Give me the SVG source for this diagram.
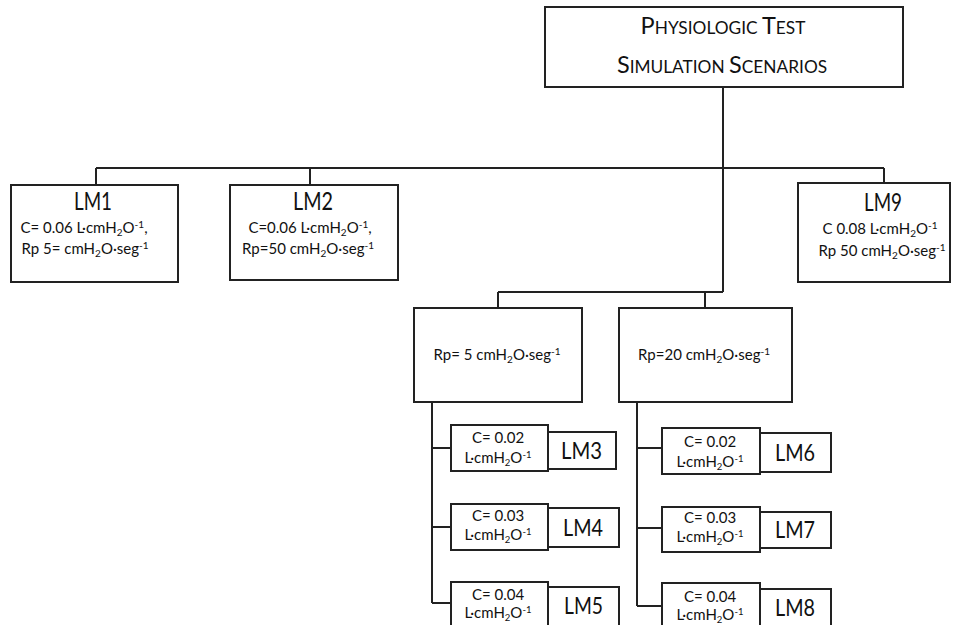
<svg xmlns="http://www.w3.org/2000/svg" width="958" height="625" viewBox="0 0 958 625">
<style>
.box{fill:#fff;stroke:#222;stroke-width:2}
.ln{fill:none;stroke:#222;stroke-width:2}
text{font-family:Lato,"Open Sans","Liberation Sans",sans-serif;fill:#111}
.t{font-size:23.5px;text-anchor:middle}
.s{font-size:17.3px}
.lm{font-size:25px}
.p{font-size:15px;text-anchor:middle}
.c{font-size:15px;text-anchor:middle}
.lb{font-size:23px}
</style>
<rect width="958" height="625" fill="#fff"/>
<g id="connectors">
<path class="ln" d="M723 87V292M96 168H884M96 168V185M310 168V185M884 168V183M498 292H723M498 292V308M705 292V308"/>
<path class="ln" d="M432 402V603M432 448H451M432 527H451M432 603H451"/>
<path class="ln" d="M637 402V606M637 448H662M637 528H662M637 606H662"/>
</g>
<g id="root">
<rect class="box" x="545" y="7" width="358" height="80"/>
<text class="t" x="723" y="34">P<tspan class="s">HYSIOLOGIC </tspan>T<tspan class="s">EST</tspan></text>
<text class="t" x="722" y="73">S<tspan class="s">IMULATION </tspan>S<tspan class="s">CENARIOS</tspan></text>
</g>
<g id="LM1">
<rect class="box" x="11" y="185" width="167" height="97"/>
<text class="lm" x="74" y="210" textLength="38" lengthAdjust="spacingAndGlyphs">LM1</text>
<text class="p" x="84" y="233">C= 0.06 L·cmH<tspan font-size="10" dy="3">2</tspan><tspan dy="-3">O</tspan><tspan font-size="10" dy="-5">-1</tspan><tspan dy="5">,</tspan></text>
<text class="p" x="85" y="254">Rp 5= cmH<tspan font-size="10" dy="3">2</tspan><tspan dy="-3">O·seg</tspan><tspan font-size="10" dy="-5">-1</tspan></text>
</g>
<g id="LM2">
<rect class="box" x="230" y="185" width="168" height="95"/>
<text class="lm" x="293" y="210" textLength="40" lengthAdjust="spacingAndGlyphs">LM2</text>
<text class="p" x="310" y="233">C=0.06 L·cmH<tspan font-size="10" dy="3">2</tspan><tspan dy="-3">O</tspan><tspan font-size="10" dy="-5">-1</tspan><tspan dy="5">,</tspan></text>
<text class="p" x="308" y="254">Rp=50 cmH<tspan font-size="10" dy="3">2</tspan><tspan dy="-3">O·seg</tspan><tspan font-size="10" dy="-5">-1</tspan></text>
</g>
<g id="LM9">
<rect class="box" x="798" y="183" width="152" height="99"/>
<text class="lm" x="864" y="211" textLength="38" lengthAdjust="spacingAndGlyphs">LM9</text>
<text class="p" x="880" y="234">C 0.08 L·cmH<tspan font-size="10" dy="3">2</tspan><tspan dy="-3">O</tspan><tspan font-size="10" dy="-5">-1</tspan></text>
<text class="p" x="882" y="256">Rp 50 cmH<tspan font-size="10" dy="3">2</tspan><tspan dy="-3">O·seg</tspan><tspan font-size="10" dy="-5">-1</tspan></text>
</g>
<g id="Rp5">
<rect class="box" x="414" y="308" width="168" height="94"/>
<text class="p" x="497" y="360">Rp= 5 cmH<tspan font-size="10" dy="3">2</tspan><tspan dy="-3">O·seg</tspan><tspan font-size="10" dy="-5">-1</tspan></text>
</g>
<g id="Rp20">
<rect class="box" x="619" y="308" width="173" height="94"/>
<text class="p" x="704" y="360">Rp=20 cmH<tspan font-size="10" dy="3">2</tspan><tspan dy="-3">O·seg</tspan><tspan font-size="10" dy="-5">-1</tspan></text>
</g>
<g id="LM3">
<rect class="box" x="548" y="432" width="68" height="37"/>
<rect class="box" x="451" y="425" width="97" height="46"/>
<text class="c" x="498" y="443">C= 0.02</text>
<text class="c" x="498" y="463">L·cmH<tspan font-size="9.5" dy="3">2</tspan><tspan dy="-3">O</tspan><tspan font-size="9.5" dy="-5">-1</tspan></text>
<text class="lb" x="561" y="459" textLength="41" lengthAdjust="spacingAndGlyphs">LM3</text>
</g>
<g id="LM4">
<rect class="box" x="548" y="508" width="71" height="39"/>
<rect class="box" x="451" y="504" width="97" height="46"/>
<text class="c" x="498" y="521">C= 0.03</text>
<text class="c" x="498" y="540">L·cmH<tspan font-size="9.5" dy="3">2</tspan><tspan dy="-3">O</tspan><tspan font-size="9.5" dy="-5">-1</tspan></text>
<text class="lb" x="563" y="536" textLength="40" lengthAdjust="spacingAndGlyphs">LM4</text>
</g>
<g id="LM5">
<rect class="box" x="548" y="587" width="71" height="50"/>
<rect class="box" x="451" y="582" width="97" height="55"/>
<text class="c" x="498" y="600">C= 0.04</text>
<text class="c" x="498" y="618">L·cmH<tspan font-size="9.5" dy="3">2</tspan><tspan dy="-3">O</tspan><tspan font-size="9.5" dy="-5">-1</tspan></text>
<text class="lb" x="564" y="614" textLength="39" lengthAdjust="spacingAndGlyphs">LM5</text>
</g>
<g id="LM6">
<rect class="box" x="760" y="433" width="71" height="39"/>
<rect class="box" x="662" y="428" width="98" height="46"/>
<text class="c" x="710" y="447">C= 0.02</text>
<text class="c" x="710" y="467">L·cmH<tspan font-size="9.5" dy="3">2</tspan><tspan dy="-3">O</tspan><tspan font-size="9.5" dy="-5">-1</tspan></text>
<text class="lb" x="775" y="461" textLength="40" lengthAdjust="spacingAndGlyphs">LM6</text>
</g>
<g id="LM7">
<rect class="box" x="760" y="512" width="71" height="36"/>
<rect class="box" x="662" y="507" width="98" height="45"/>
<text class="c" x="710" y="523">C= 0.03</text>
<text class="c" x="710" y="542">L·cmH<tspan font-size="9.5" dy="3">2</tspan><tspan dy="-3">O</tspan><tspan font-size="9.5" dy="-5">-1</tspan></text>
<text class="lb" x="775" y="538" textLength="40" lengthAdjust="spacingAndGlyphs">LM7</text>
</g>
<g id="LM8">
<rect class="box" x="760" y="589" width="71" height="48"/>
<rect class="box" x="662" y="583" width="98" height="54"/>
<text class="c" x="710" y="602">C= 0.04</text>
<text class="c" x="710" y="620">L·cmH<tspan font-size="9.5" dy="3">2</tspan><tspan dy="-3">O</tspan><tspan font-size="9.5" dy="-5">-1</tspan></text>
<text class="lb" x="775" y="616" textLength="40" lengthAdjust="spacingAndGlyphs">LM8</text>
</g>
</svg>
